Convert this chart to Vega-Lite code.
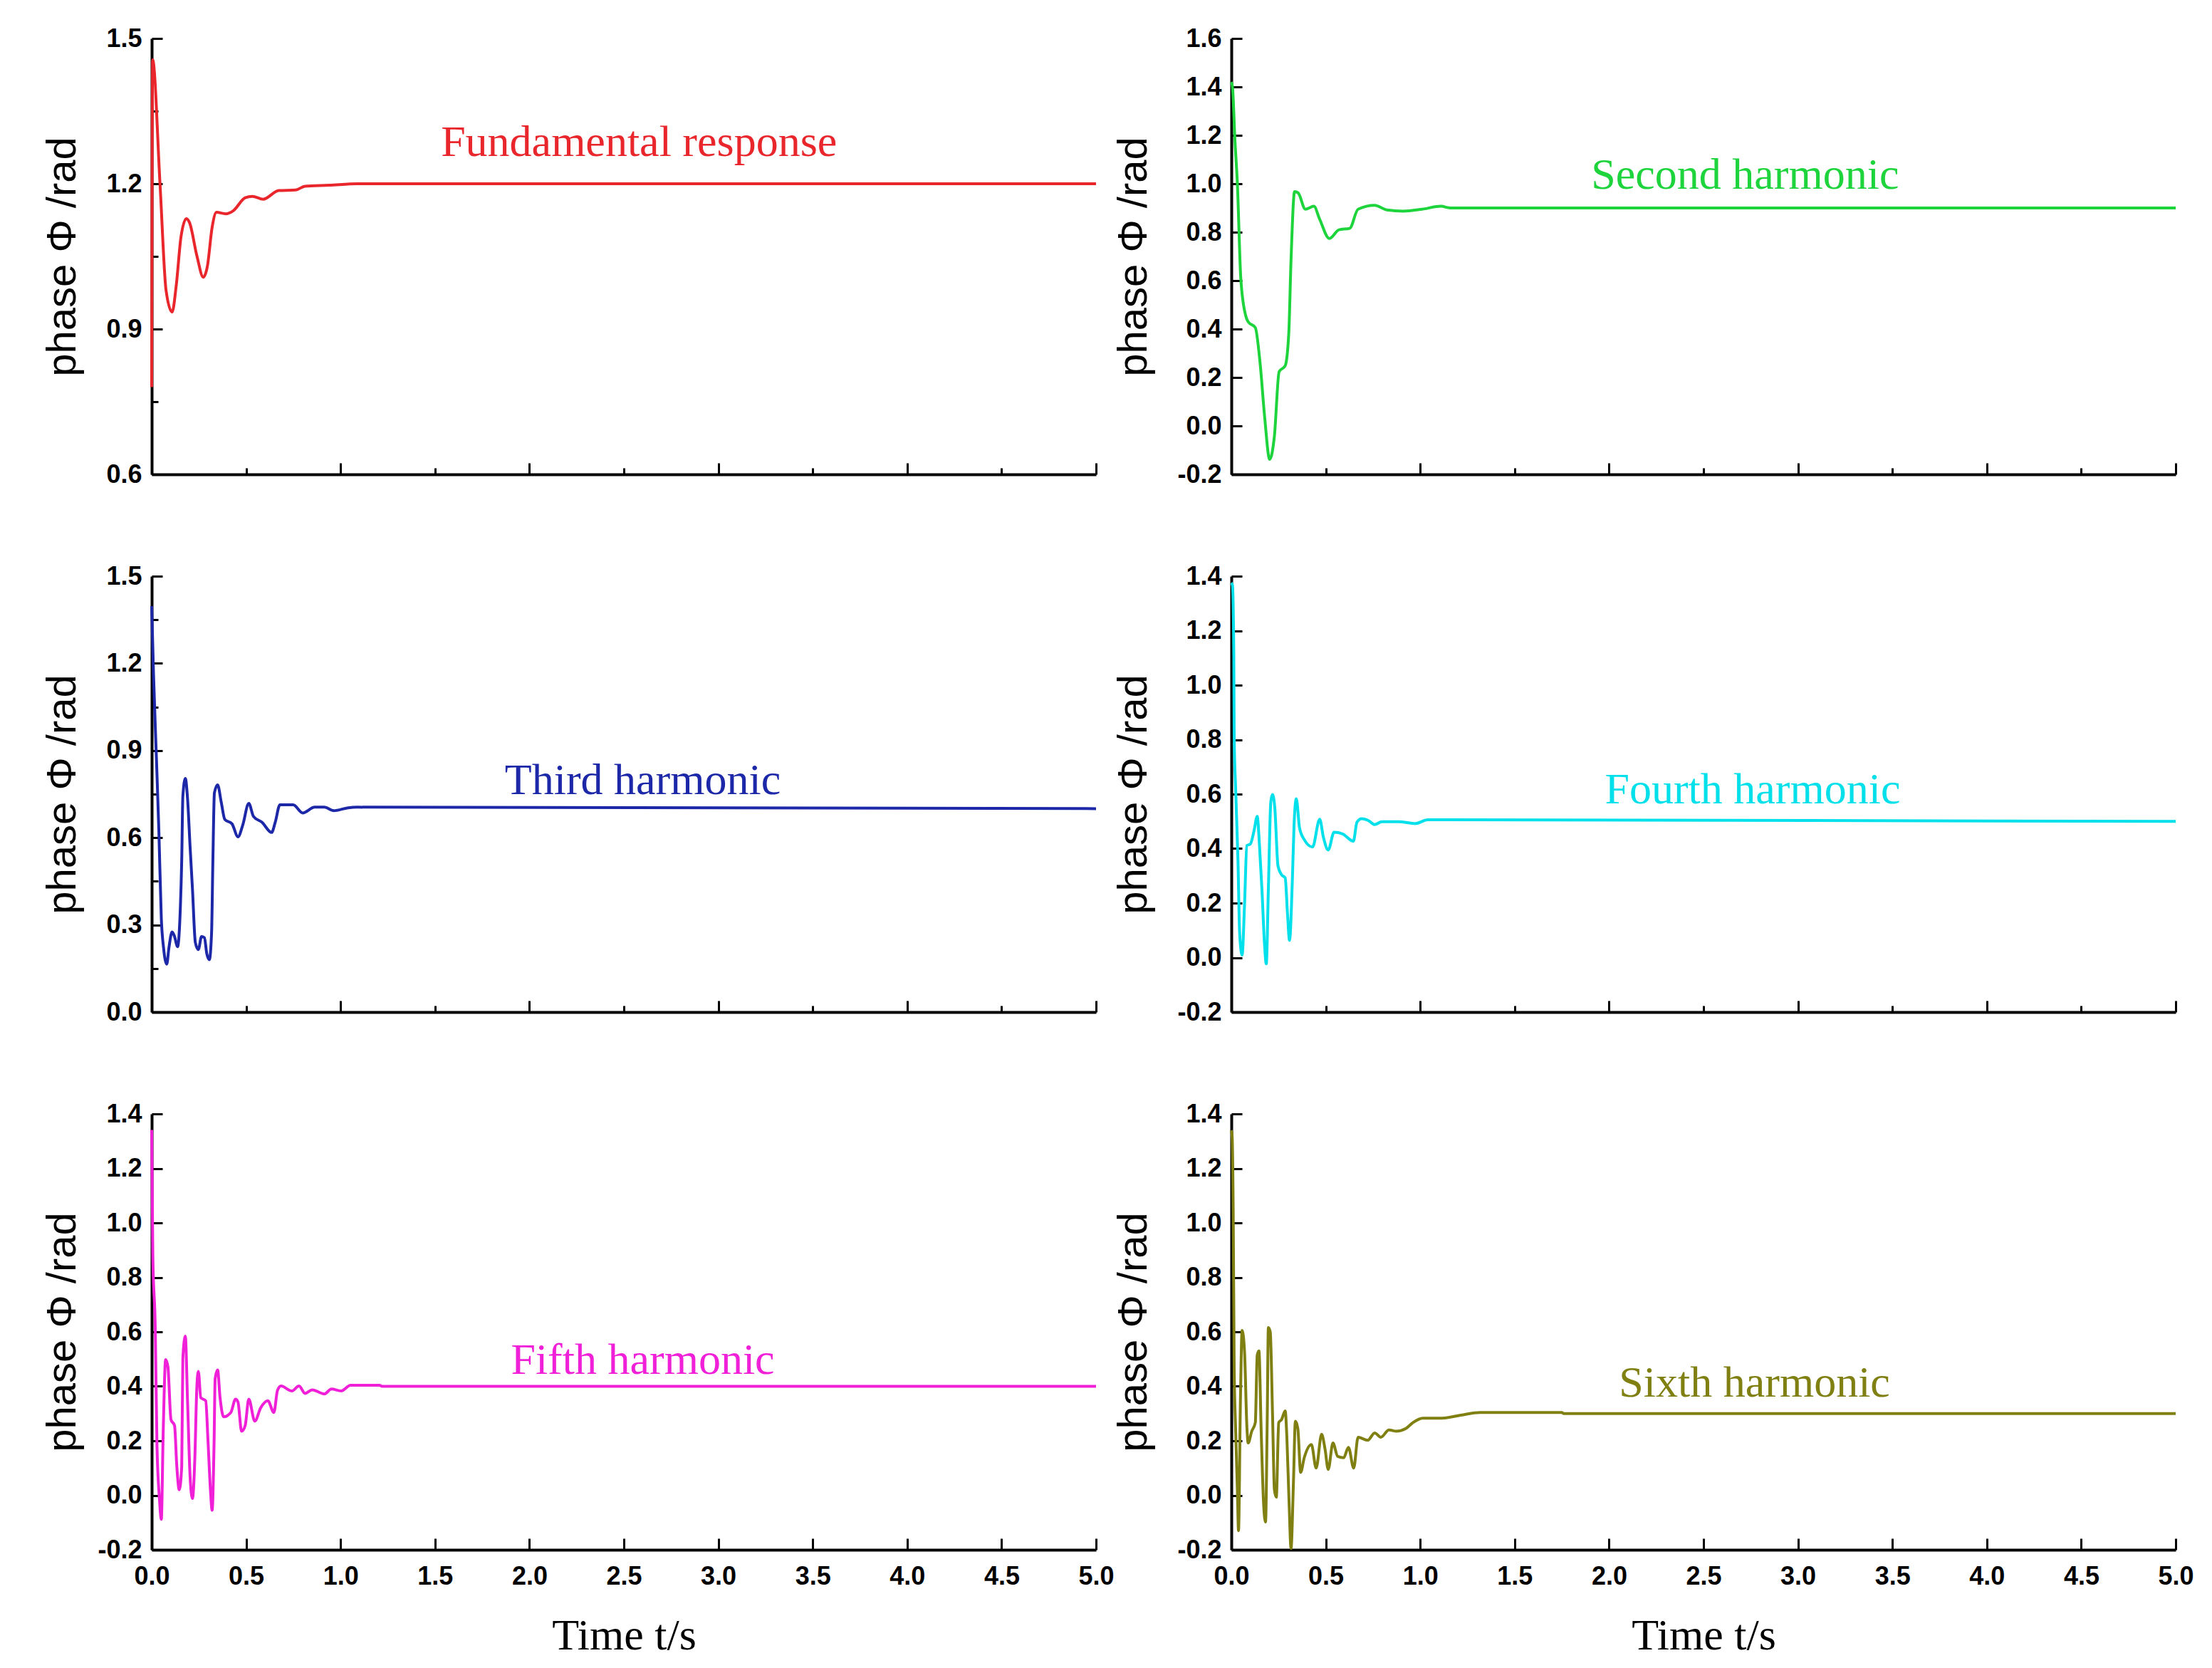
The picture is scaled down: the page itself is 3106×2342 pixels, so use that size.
{
  "$schema": "https://vega.github.io/schema/vega-lite/v6.json",
  "background": "white",
  "padding": {"left": 59, "top": 36, "right": 0, "bottom": 0},
  "datasets": {
    "s1": [
      {"t": 0, "phase": 0.78}, {"t": 0.005, "phase": 1.456}, {"t": 0.044, "phase": 1.2}, {"t": 0.076, "phase": 0.98},
      {"t": 0.108, "phase": 0.935}, {"t": 0.13, "phase": 0.99}, {"t": 0.155, "phase": 1.09}, {"t": 0.184, "phase": 1.128},
      {"t": 0.2, "phase": 1.12}, {"t": 0.24, "phase": 1.05}, {"t": 0.273, "phase": 1.007}, {"t": 0.295, "phase": 1.03},
      {"t": 0.32, "phase": 1.11}, {"t": 0.343, "phase": 1.141}, {"t": 0.393, "phase": 1.138}, {"t": 0.431, "phase": 1.144},
      {"t": 0.495, "phase": 1.171}, {"t": 0.533, "phase": 1.174}, {"t": 0.59, "phase": 1.168}, {"t": 0.673, "phase": 1.186},
      {"t": 0.761, "phase": 1.187}, {"t": 0.812, "phase": 1.195}, {"t": 0.939, "phase": 1.197}, {"t": 1.09, "phase": 1.2},
      {"t": 5, "phase": 1.2}
    ],
    "s2": [
      {"t": 0, "phase": 1.42}, {"t": 0.006, "phase": 1.4}, {"t": 0.019, "phase": 1.18}, {"t": 0.032, "phase": 1.0},
      {"t": 0.05, "phase": 0.61}, {"t": 0.076, "phase": 0.455}, {"t": 0.089, "phase": 0.43}, {"t": 0.127, "phase": 0.406},
      {"t": 0.152, "phase": 0.261}, {"t": 0.177, "phase": 0.031}, {"t": 0.203, "phase": -0.138}, {"t": 0.228, "phase": -0.042},
      {"t": 0.253, "phase": 0.224}, {"t": 0.285, "phase": 0.248}, {"t": 0.304, "phase": 0.381}, {"t": 0.316, "phase": 0.684},
      {"t": 0.335, "phase": 0.968}, {"t": 0.354, "phase": 0.962}, {"t": 0.392, "phase": 0.895}, {"t": 0.437, "phase": 0.907},
      {"t": 0.468, "phase": 0.853}, {"t": 0.519, "phase": 0.774}, {"t": 0.57, "phase": 0.81}, {"t": 0.627, "phase": 0.816},
      {"t": 0.671, "phase": 0.895}, {"t": 0.759, "phase": 0.911}, {"t": 0.823, "phase": 0.892}, {"t": 0.911, "phase": 0.887},
      {"t": 1.01, "phase": 0.895}, {"t": 1.11, "phase": 0.907}, {"t": 1.16, "phase": 0.9}, {"t": 5, "phase": 0.9}
    ],
    "s3": [
      {"t": 0, "phase": 1.397}, {"t": 0.01, "phase": 1.156}, {"t": 0.025, "phase": 0.874}, {"t": 0.038, "phase": 0.623},
      {"t": 0.051, "phase": 0.321}, {"t": 0.063, "phase": 0.22}, {"t": 0.08, "phase": 0.165}, {"t": 0.091, "phase": 0.22},
      {"t": 0.108, "phase": 0.276}, {"t": 0.121, "phase": 0.26}, {"t": 0.137, "phase": 0.225}, {"t": 0.15, "phase": 0.331},
      {"t": 0.159, "phase": 0.522}, {"t": 0.165, "phase": 0.743}, {"t": 0.178, "phase": 0.804}, {"t": 0.19, "phase": 0.733},
      {"t": 0.203, "phase": 0.572}, {"t": 0.216, "phase": 0.422}, {"t": 0.231, "phase": 0.24}, {"t": 0.247, "phase": 0.215},
      {"t": 0.264, "phase": 0.26}, {"t": 0.279, "phase": 0.256}, {"t": 0.292, "phase": 0.2}, {"t": 0.305, "phase": 0.18},
      {"t": 0.317, "phase": 0.271}, {"t": 0.324, "phase": 0.522}, {"t": 0.332, "phase": 0.754}, {"t": 0.349, "phase": 0.782},
      {"t": 0.368, "phase": 0.723}, {"t": 0.387, "phase": 0.663}, {"t": 0.425, "phase": 0.648}, {"t": 0.457, "phase": 0.603},
      {"t": 0.482, "phase": 0.643}, {"t": 0.514, "phase": 0.718}, {"t": 0.539, "phase": 0.673}, {"t": 0.584, "phase": 0.653},
      {"t": 0.635, "phase": 0.618}, {"t": 0.654, "phase": 0.653}, {"t": 0.679, "phase": 0.713}, {"t": 0.749, "phase": 0.713},
      {"t": 0.8, "phase": 0.685}, {"t": 0.863, "phase": 0.705}, {"t": 0.914, "phase": 0.705}, {"t": 0.964, "phase": 0.693},
      {"t": 1.04, "phase": 0.703}, {"t": 1.09, "phase": 0.705}, {"t": 5, "phase": 0.7}
    ],
    "s4": [
      {"t": 0, "phase": 1.376}, {"t": 0.006, "phase": 1.366}, {"t": 0.013, "phase": 1.108}, {"t": 0.015, "phase": 0.808},
      {"t": 0.023, "phase": 0.615}, {"t": 0.035, "phase": 0.358}, {"t": 0.044, "phase": 0.089}, {"t": 0.057, "phase": 0.009},
      {"t": 0.07, "phase": 0.197}, {"t": 0.082, "phase": 0.411}, {"t": 0.101, "phase": 0.417}, {"t": 0.12, "phase": 0.465},
      {"t": 0.137, "phase": 0.518}, {"t": 0.149, "phase": 0.411}, {"t": 0.162, "phase": 0.25}, {"t": 0.175, "phase": 0.057},
      {"t": 0.185, "phase": -0.023}, {"t": 0.196, "phase": 0.25}, {"t": 0.209, "phase": 0.572}, {"t": 0.218, "phase": 0.599},
      {"t": 0.23, "phase": 0.551}, {"t": 0.247, "phase": 0.336}, {"t": 0.266, "phase": 0.304}, {"t": 0.285, "phase": 0.293},
      {"t": 0.297, "phase": 0.165}, {"t": 0.308, "phase": 0.063}, {"t": 0.323, "phase": 0.283}, {"t": 0.332, "phase": 0.486},
      {"t": 0.344, "phase": 0.583}, {"t": 0.361, "phase": 0.476}, {"t": 0.386, "phase": 0.433}, {"t": 0.43, "phase": 0.406},
      {"t": 0.468, "phase": 0.508}, {"t": 0.487, "phase": 0.443}, {"t": 0.513, "phase": 0.395}, {"t": 0.544, "phase": 0.46},
      {"t": 0.589, "phase": 0.454}, {"t": 0.646, "phase": 0.427}, {"t": 0.665, "phase": 0.497}, {"t": 0.69, "phase": 0.51},
      {"t": 0.728, "phase": 0.502}, {"t": 0.759, "phase": 0.488}, {"t": 0.797, "phase": 0.499}, {"t": 0.886, "phase": 0.499},
      {"t": 0.975, "phase": 0.492}, {"t": 1.04, "phase": 0.506}, {"t": 5, "phase": 0.5}
    ],
    "s5": [
      {"t": 0, "phase": 1.341}, {"t": 0.006, "phase": 0.879}, {"t": 0.019, "phase": 0.61}, {"t": 0.028, "phase": 0.181},
      {"t": 0.041, "phase": -0.012}, {"t": 0.051, "phase": -0.088}, {"t": 0.061, "phase": 0.235}, {"t": 0.074, "phase": 0.498},
      {"t": 0.086, "phase": 0.471}, {"t": 0.102, "phase": 0.278}, {"t": 0.121, "phase": 0.256}, {"t": 0.133, "phase": 0.106},
      {"t": 0.146, "phase": 0.02}, {"t": 0.159, "phase": 0.106}, {"t": 0.165, "phase": 0.503}, {"t": 0.178, "phase": 0.584},
      {"t": 0.19, "phase": 0.342}, {"t": 0.203, "phase": 0.073}, {"t": 0.216, "phase": -0.012}, {"t": 0.228, "phase": 0.127},
      {"t": 0.239, "phase": 0.396}, {"t": 0.247, "phase": 0.455}, {"t": 0.26, "phase": 0.358}, {"t": 0.286, "phase": 0.347},
      {"t": 0.298, "phase": 0.202}, {"t": 0.311, "phase": 0.02}, {"t": 0.32, "phase": -0.055}, {"t": 0.33, "phase": 0.181},
      {"t": 0.336, "phase": 0.428}, {"t": 0.349, "phase": 0.46}, {"t": 0.362, "phase": 0.358}, {"t": 0.381, "phase": 0.288},
      {"t": 0.419, "phase": 0.304}, {"t": 0.444, "phase": 0.353}, {"t": 0.457, "phase": 0.342}, {"t": 0.476, "phase": 0.235},
      {"t": 0.495, "phase": 0.256}, {"t": 0.514, "phase": 0.353}, {"t": 0.546, "phase": 0.272}, {"t": 0.577, "phase": 0.321},
      {"t": 0.615, "phase": 0.347}, {"t": 0.647, "phase": 0.304}, {"t": 0.666, "phase": 0.385}, {"t": 0.685, "phase": 0.401},
      {"t": 0.742, "phase": 0.383}, {"t": 0.78, "phase": 0.401}, {"t": 0.812, "phase": 0.374}, {"t": 0.85, "phase": 0.387},
      {"t": 0.914, "phase": 0.372}, {"t": 0.952, "phase": 0.39}, {"t": 1.003, "phase": 0.383}, {"t": 1.053, "phase": 0.404},
      {"t": 1.206, "phase": 0.404}, {"t": 1.22, "phase": 0.4}, {"t": 5, "phase": 0.4}
    ],
    "s6": [
      {"t": 0, "phase": 1.34}, {"t": 0.004, "phase": 1.32}, {"t": 0.01, "phase": 1.03}, {"t": 0.015, "phase": 0.471},
      {"t": 0.023, "phase": 0.235}, {"t": 0.032, "phase": 0.02}, {"t": 0.038, "phase": -0.13}, {"t": 0.048, "phase": 0.342},
      {"t": 0.057, "phase": 0.605}, {"t": 0.07, "phase": 0.525}, {"t": 0.082, "phase": 0.256}, {"t": 0.089, "phase": 0.192},
      {"t": 0.108, "phase": 0.235}, {"t": 0.127, "phase": 0.267}, {"t": 0.137, "phase": 0.514}, {"t": 0.146, "phase": 0.53},
      {"t": 0.158, "phase": 0.235}, {"t": 0.171, "phase": -0.034}, {"t": 0.181, "phase": -0.098}, {"t": 0.19, "phase": 0.278},
      {"t": 0.196, "phase": 0.616}, {"t": 0.206, "phase": 0.6}, {"t": 0.218, "phase": 0.3}, {"t": 0.228, "phase": 0.02},
      {"t": 0.238, "phase": -0.007}, {"t": 0.251, "phase": 0.267}, {"t": 0.266, "phase": 0.278}, {"t": 0.285, "phase": 0.31},
      {"t": 0.294, "phase": 0.213}, {"t": 0.306, "phase": -0.034}, {"t": 0.316, "phase": -0.195}, {"t": 0.329, "phase": 0.052},
      {"t": 0.339, "phase": 0.272}, {"t": 0.352, "phase": 0.245}, {"t": 0.367, "phase": 0.084}, {"t": 0.386, "phase": 0.138},
      {"t": 0.424, "phase": 0.186}, {"t": 0.449, "phase": 0.1}, {"t": 0.478, "phase": 0.224}, {"t": 0.496, "phase": 0.17},
      {"t": 0.513, "phase": 0.095}, {"t": 0.538, "phase": 0.192}, {"t": 0.563, "phase": 0.143}, {"t": 0.595, "phase": 0.138},
      {"t": 0.62, "phase": 0.176}, {"t": 0.648, "phase": 0.1}, {"t": 0.671, "phase": 0.213}, {"t": 0.722, "phase": 0.202},
      {"t": 0.759, "phase": 0.229}, {"t": 0.791, "phase": 0.213}, {"t": 0.835, "phase": 0.24}, {"t": 0.873, "phase": 0.235},
      {"t": 0.924, "phase": 0.245}, {"t": 0.962, "phase": 0.267}, {"t": 1.013, "phase": 0.283}, {"t": 1.114, "phase": 0.283},
      {"t": 1.215, "phase": 0.294}, {"t": 1.316, "phase": 0.304}, {"t": 1.75, "phase": 0.304}, {"t": 1.76, "phase": 0.3},
      {"t": 5, "phase": 0.3}
    ],
    "notes": [
      {"panel": 1, "t": 2.58, "phase": 1.258, "label": "Fundamental response"},
      {"panel": 2, "t": 2.72, "phase": 0.98, "label": "Second harmonic"},
      {"panel": 3, "t": 2.6, "phase": 0.75, "label": "Third harmonic"},
      {"panel": 4, "t": 2.76, "phase": 0.565, "label": "Fourth harmonic"},
      {"panel": 5, "t": 2.6, "phase": 0.445, "label": "Fifth harmonic"},
      {"panel": 6, "t": 2.77, "phase": 0.362, "label": "Sixth harmonic"}
    ]
  },
  "columns": 2,
  "spacing": {"row": 143, "column": 190},
  "bounds": "flush",
  "concat": [
    {
      "width": 1326, "height": 612,
      "layer": [
        {
          "data": {"name": "s1"},
          "mark": {"type": "line", "color": "#e8262b", "strokeWidth": 4, "interpolate": "monotone"},
          "encoding": {
            "x": {"field": "t", "type": "quantitative", "scale": {"domain": [0, 5], "nice": false},
              "axis": {"values": [0, 0.5, 1, 1.5, 2, 2.5, 3, 3.5, 4, 4.5, 5], "labels": false, "title": null,
                "tickSize": {"condition": {"test": "datum.value % 1 === 0", "value": -16}, "value": -9}}},
            "y": {"field": "phase", "type": "quantitative", "scale": {"domain": [0.6, 1.5], "nice": false, "zero": false},
              "axis": {"values": [0.6, 0.75, 0.9, 1.05, 1.2, 1.35, 1.5], "title": "phase Φ /rad", "titlePadding": 24,
                "labelExpr": "round(datum.value*100) % 30 === 0 ? replace(format(datum.value, '.1f'), '\u2212', '-') : ''",
                "tickSize": {"condition": {"test": "round(datum.value*100) % 30 === 0", "value": -15}, "value": -9}}}
          }
        },
        {
          "data": {"name": "notes"},
          "transform": [{"filter": "datum.panel === 1"}],
          "mark": {"type": "text", "color": "#e8262b"},
          "encoding": {
            "x": {"field": "t", "type": "quantitative"},
            "y": {"field": "phase", "type": "quantitative"},
            "text": {"field": "label"}
          }
        }
      ]
    },
    {
      "width": 1326, "height": 612,
      "layer": [
        {
          "data": {"name": "s2"},
          "mark": {"type": "line", "color": "#1ed43c", "strokeWidth": 4, "interpolate": "monotone"},
          "encoding": {
            "x": {"field": "t", "type": "quantitative", "scale": {"domain": [0, 5], "nice": false},
              "axis": {"values": [0, 0.5, 1, 1.5, 2, 2.5, 3, 3.5, 4, 4.5, 5], "labels": false, "title": null,
                "tickSize": {"condition": {"test": "datum.value % 1 === 0", "value": -16}, "value": -9}}},
            "y": {"field": "phase", "type": "quantitative", "scale": {"domain": [-0.2, 1.6], "nice": false, "zero": false},
              "axis": {"values": [-0.2, -0.1, 0, 0.1, 0.2, 0.3, 0.4, 0.5, 0.6, 0.7, 0.8, 0.9, 1.0, 1.1, 1.2, 1.3, 1.4, 1.5, 1.6],
                "title": "phase Φ /rad", "titlePadding": 36,
                "labelExpr": "round(datum.value*100) % 20 === 0 ? replace(format(datum.value, '.1f'), '\u2212', '-') : ''",
                "tickSize": {"condition": {"test": "round(datum.value*100) % 20 === 0", "value": -15}, "value": -9}}}
          }
        },
        {
          "data": {"name": "notes"},
          "transform": [{"filter": "datum.panel === 2"}],
          "mark": {"type": "text", "color": "#1ed43c"},
          "encoding": {
            "x": {"field": "t", "type": "quantitative"},
            "y": {"field": "phase", "type": "quantitative"},
            "text": {"field": "label"}
          }
        }
      ]
    },
    {
      "width": 1326, "height": 612,
      "layer": [
        {
          "data": {"name": "s3"},
          "mark": {"type": "line", "color": "#1c28a8", "strokeWidth": 4, "interpolate": "monotone"},
          "encoding": {
            "x": {"field": "t", "type": "quantitative", "scale": {"domain": [0, 5], "nice": false},
              "axis": {"values": [0, 0.5, 1, 1.5, 2, 2.5, 3, 3.5, 4, 4.5, 5], "labels": false, "title": null,
                "tickSize": {"condition": {"test": "datum.value % 1 === 0", "value": -16}, "value": -9}}},
            "y": {"field": "phase", "type": "quantitative", "scale": {"domain": [0, 1.5], "nice": false, "zero": false},
              "axis": {"values": [0, 0.15, 0.3, 0.45, 0.6, 0.75, 0.9, 1.05, 1.2, 1.35, 1.5], "title": "phase Φ /rad", "titlePadding": 24,
                "labelExpr": "round(datum.value*100) % 30 === 0 ? replace(format(datum.value, '.1f'), '\u2212', '-') : ''",
                "tickSize": {"condition": {"test": "round(datum.value*100) % 30 === 0", "value": -15}, "value": -9}}}
          }
        },
        {
          "data": {"name": "notes"},
          "transform": [{"filter": "datum.panel === 3"}],
          "mark": {"type": "text", "color": "#1c28a8"},
          "encoding": {
            "x": {"field": "t", "type": "quantitative"},
            "y": {"field": "phase", "type": "quantitative"},
            "text": {"field": "label"}
          }
        }
      ]
    },
    {
      "width": 1326, "height": 612,
      "layer": [
        {
          "data": {"name": "s4"},
          "mark": {"type": "line", "color": "#00e0ea", "strokeWidth": 4, "interpolate": "monotone"},
          "encoding": {
            "x": {"field": "t", "type": "quantitative", "scale": {"domain": [0, 5], "nice": false},
              "axis": {"values": [0, 0.5, 1, 1.5, 2, 2.5, 3, 3.5, 4, 4.5, 5], "labels": false, "title": null,
                "tickSize": {"condition": {"test": "datum.value % 1 === 0", "value": -16}, "value": -9}}},
            "y": {"field": "phase", "type": "quantitative", "scale": {"domain": [-0.2, 1.4], "nice": false, "zero": false},
              "axis": {"values": [-0.2, -0.1, 0, 0.1, 0.2, 0.3, 0.4, 0.5, 0.6, 0.7, 0.8, 0.9, 1.0, 1.1, 1.2, 1.3, 1.4],
                "title": "phase Φ /rad", "titlePadding": 36,
                "labelExpr": "round(datum.value*100) % 20 === 0 ? replace(format(datum.value, '.1f'), '\u2212', '-') : ''",
                "tickSize": {"condition": {"test": "round(datum.value*100) % 20 === 0", "value": -15}, "value": -9}}}
          }
        },
        {
          "data": {"name": "notes"},
          "transform": [{"filter": "datum.panel === 4"}],
          "mark": {"type": "text", "color": "#00e0ea"},
          "encoding": {
            "x": {"field": "t", "type": "quantitative"},
            "y": {"field": "phase", "type": "quantitative"},
            "text": {"field": "label"}
          }
        }
      ]
    },
    {
      "width": 1326, "height": 612,
      "layer": [
        {
          "data": {"name": "s5"},
          "mark": {"type": "line", "color": "#f020d8", "strokeWidth": 4, "interpolate": "monotone"},
          "encoding": {
            "x": {"field": "t", "type": "quantitative", "scale": {"domain": [0, 5], "nice": false},
              "axis": {"values": [0, 0.5, 1, 1.5, 2, 2.5, 3, 3.5, 4, 4.5, 5], "format": ".1f", "title": "Time t/s",
                "tickSize": -16, "labelPadding": 36, "titlePadding": 30}},
            "y": {"field": "phase", "type": "quantitative", "scale": {"domain": [-0.2, 1.4], "nice": false, "zero": false},
              "axis": {"values": [-0.2, -0.1, 0, 0.1, 0.2, 0.3, 0.4, 0.5, 0.6, 0.7, 0.8, 0.9, 1.0, 1.1, 1.2, 1.3, 1.4],
                "title": "phase Φ /rad", "titlePadding": 24,
                "labelExpr": "round(datum.value*100) % 20 === 0 ? replace(format(datum.value, '.1f'), '\u2212', '-') : ''",
                "tickSize": {"condition": {"test": "round(datum.value*100) % 20 === 0", "value": -15}, "value": -9}}}
          }
        },
        {
          "data": {"name": "notes"},
          "transform": [{"filter": "datum.panel === 5"}],
          "mark": {"type": "text", "color": "#f020d8"},
          "encoding": {
            "x": {"field": "t", "type": "quantitative"},
            "y": {"field": "phase", "type": "quantitative"},
            "text": {"field": "label"}
          }
        }
      ]
    },
    {
      "width": 1326, "height": 612,
      "layer": [
        {
          "data": {"name": "s6"},
          "mark": {"type": "line", "color": "#7f7f12", "strokeWidth": 4, "interpolate": "monotone"},
          "encoding": {
            "x": {"field": "t", "type": "quantitative", "scale": {"domain": [0, 5], "nice": false},
              "axis": {"values": [0, 0.5, 1, 1.5, 2, 2.5, 3, 3.5, 4, 4.5, 5], "format": ".1f", "title": "Time t/s",
                "tickSize": -16, "labelPadding": 36, "titlePadding": 30}},
            "y": {"field": "phase", "type": "quantitative", "scale": {"domain": [-0.2, 1.4], "nice": false, "zero": false},
              "axis": {"values": [-0.2, -0.1, 0, 0.1, 0.2, 0.3, 0.4, 0.5, 0.6, 0.7, 0.8, 0.9, 1.0, 1.1, 1.2, 1.3, 1.4],
                "title": "phase Φ /rad", "titlePadding": 36,
                "labelExpr": "round(datum.value*100) % 20 === 0 ? replace(format(datum.value, '.1f'), '\u2212', '-') : ''",
                "tickSize": {"condition": {"test": "round(datum.value*100) % 20 === 0", "value": -15}, "value": -9}}}
          }
        },
        {
          "data": {"name": "notes"},
          "transform": [{"filter": "datum.panel === 6"}],
          "mark": {"type": "text", "color": "#7f7f12"},
          "encoding": {
            "x": {"field": "t", "type": "quantitative"},
            "y": {"field": "phase", "type": "quantitative"},
            "text": {"field": "label"}
          }
        }
      ]
    }
  ],
  "config": {
    "view": {"stroke": null},
    "text": {"font": "Liberation Serif", "fontSize": 62, "align": "center", "baseline": "alphabetic"},
    "axis": {
      "grid": false,
      "domainColor": "black",
      "domainWidth": 4,
      "tickColor": "black",
      "tickWidth": 3,
      "labelColor": "black",
      "labelFont": "Liberation Sans",
      "labelFontWeight": "bold",
      "labelFontSize": 36,
      "labelFlush": false,
      "labelOverlap": false,
      "titleColor": "black",
      "titleFont": "Liberation Sans",
      "titleFontWeight": "normal",
      "titleFontSize": 58
    },
    "axisY": {"labelPadding": 29, "minExtent": 72, "maxExtent": 72},
    "axisX": {"titleFont": "Liberation Serif", "titleFontSize": 62, "minExtent": 60, "maxExtent": 60}
  }
}
